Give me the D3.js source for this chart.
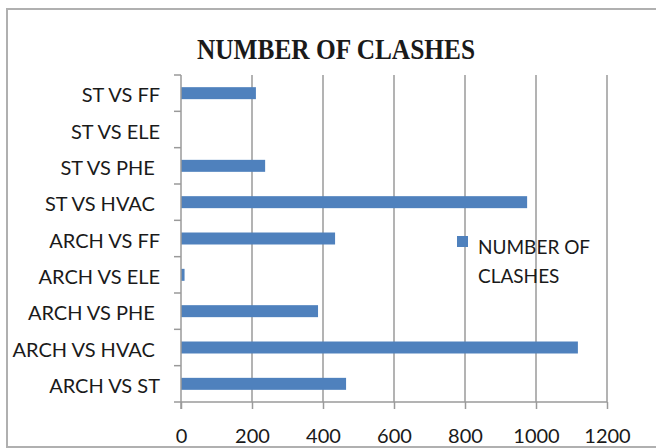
<!DOCTYPE html>
<html>
<head>
<meta charset="utf-8">
<script src="https://cdn.jsdelivr.net/npm/d3@7"></script>
<style>
  body { margin: 0; background: #fff; }
  svg text { font-family: Lato, "Open Sans", sans-serif; fill: #1a1a1a; }
</style>
</head>
<body>
<svg></svg>
<script>
// data (top to bottom, as drawn)
let categories = ['ST VS FF', 'ST VS ELE', 'ST VS PHE ', 'ST VS HVAC ', 'ARCH VS FF',
                  'ARCH VS ELE', 'ARCH VS PHE ', 'ARCH VS HVAC ', 'ARCH VS ST']
let clashes = [211, 0, 237, 975, 434, 10, 386, 1118, 465]
let xTicks = [0, 200, 400, 600, 800, 1000, 1200]
let seriesName = ['NUMBER OF', 'CLASHES']
let chartTitle = 'NUMBER OF CLASHES'

let svgWidth = 656, svgHeight = 448
let plot = {left: 181, right: 607, top: 75, bottom: 402}

let svg = d3.select('svg')
            .attr('width', svgWidth)
            .attr('height', svgHeight)

// chart frame (runs off the right/bottom edge in the picture)
svg.append('rect')
   .attr('x', 7).attr('y', 9)
   .attr('width', 700).attr('height', 438)
   .attr('fill', '#fff')
   .attr('stroke', '#b0b0b0')
   .attr('stroke-width', 2)

svg.append('text')
   .attr('x', 336).attr('y', 59)
   .attr('text-anchor', 'middle')
   .attr('textLength', 278)
   .attr('lengthAdjust', 'spacingAndGlyphs')
   .style('font-family', '"Liberation Serif", serif')
   .style('font-weight', 'bold')
   .style('font-size', '30px')
   .text(chartTitle)

let xScale = d3.scaleLinear()
               .domain([0, 1200])
               .range([plot.left, plot.right])

let yScale = d3.scaleBand()
               .domain(categories)
               .range([plot.top, plot.bottom])
               .paddingInner(0.67)
               .paddingOuter(0.335)

// vertical gridlines
svg.append('g')
   .selectAll('line')
   .data(xTicks.slice(1))
   .enter()
   .append('line')
   .attr('x1', d => xScale(d)).attr('x2', d => xScale(d))
   .attr('y1', plot.top).attr('y2', plot.bottom)
   .attr('stroke', '#9a9a9a')
   .attr('stroke-width', 1.5)

svg.selectAll('rect.bar')
   .data(clashes)
   .enter()
   .append('rect')
   .attr('class', 'bar')
   .attr('x', xScale(0))
   .attr('y', (d, i) => yScale(categories[i]))
   .attr('width', d => xScale(d) - xScale(0))
   .attr('height', yScale.bandwidth())
   .attr('fill', '#4f81bd')

// x axis
let xAxis = d3.axisBottom(xScale)
              .tickValues(xTicks)
              .tickFormat(d3.format('d'))
              .tickSize(7)
              .tickPadding(20)
              .tickSizeOuter(0)
let gx = svg.append('g')
            .attr('transform', 'translate(0,' + plot.bottom + ')')
            .call(xAxis)
gx.select('.domain').attr('d', 'M' + (plot.left - 7) + ',0H' + plot.right)
gx.selectAll('line, path').attr('stroke', '#9a9a9a').attr('stroke-width', 1.5)
gx.selectAll('text').style('font-size', '20px').attr('fill', '#1a1a1a')

// y axis: ticks sit on the category boundaries, like excel
let yAxis = d3.axisLeft(yScale).tickSize(0).tickPadding(21)
let gy = svg.append('g')
            .attr('transform', 'translate(' + plot.left + ',0)')
            .call(yAxis)
gy.select('.domain').attr('d', 'M0,' + plot.top + 'V' + (plot.bottom + 7))
  .attr('stroke', '#9a9a9a').attr('stroke-width', 1.5)
gy.selectAll('text')
  .style('font-size', '20px')
  .style('white-space', 'pre')
  .attr('dy', '0.45em')
  .attr('fill', '#1a1a1a')

let step = yScale.step()
gy.selectAll('line.bound')
  .data(categories)
  .enter()
  .append('line')
  .attr('class', 'bound')
  .attr('x1', -7).attr('x2', 0)
  .attr('y1', (d, i) => plot.top + step * i)
  .attr('y2', (d, i) => plot.top + step * i)
  .attr('stroke', '#9a9a9a')
  .attr('stroke-width', 1.5)

// legend
let legend = svg.append('g').attr('transform', 'translate(457,236)')
legend.append('rect')
      .attr('width', 11).attr('height', 11)
      .attr('fill', '#4f81bd')
legend.selectAll('text')
      .data(seriesName)
      .enter()
      .append('text')
      .attr('x', 21)
      .attr('y', (d, i) => 18 + i * 29)
      .style('font-size', '19px')
      .text(d => d)
</script>
</body>
</html>
